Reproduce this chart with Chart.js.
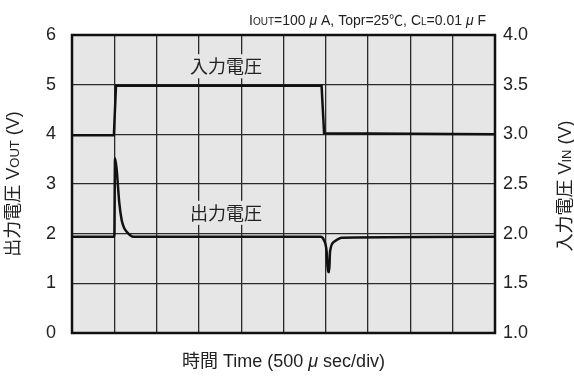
<!DOCTYPE html>
<html>
<head>
<meta charset="utf-8">
<script src="https://cdn.jsdelivr.net/npm/chart.js@4.4.1/dist/chart.umd.min.js"></script>
<style>
  html, body { margin: 0; padding: 0; background: #fff; }
  #wrap { width: 574px; height: 376px; }
</style>
</head>
<body>
<div id="wrap"><canvas id="scope"></canvas></div>
<script>
// time in divisions (500 usec/div)
const vinTime  = [0, 0.99, 1.04, 5.90, 5.96, 10];
const vinVolts = [2.99, 2.99, 3.49, 3.49, 3.01, 3.0];

const voutTime  = [0, 1.0, 1.017, 1.057, 1.118, 1.175, 1.23, 1.293, 1.36, 1.442,
                   5.88, 5.95, 6.02, 6.05, 6.08, 6.10, 6.2, 6.38, 10];
const voutVolts = [1.94, 1.94, 3.52, 3.28, 2.62, 2.27, 2.12, 2.04, 1.98, 1.94,
                   1.94, 1.88, 1.64, 1.23, 1.23, 1.64, 1.84, 1.92, 1.94];

const leftTicks  = [0, 1, 2, 3, 4, 5, 6];
const rightTicks = [1.0, 1.5, 2.0, 2.5, 3.0, 3.5, 4.0];

const FONT = "'Liberation Sans', Arial, 'Noto Sans CJK JP', sans-serif";

// draw text made of [text, size, italic] parts, centred on x,y
function mixedText(ctx, parts, x, y, align) {
  const f = p => (p[2] ? "italic " : "") + p[1] + "px " + FONT;
  let w = 0;
  parts.forEach(p => { ctx.font = f(p); w += ctx.measureText(p[0]).width; });
  let cx = align === "right" ? x - w : x - w / 2;
  ctx.textBaseline = "alphabetic";
  ctx.textAlign = "left";
  parts.forEach(p => {
    ctx.font = f(p);
    ctx.fillText(p[0], cx, y);
    cx += ctx.measureText(p[0]).width;
  });
}

const scopeDeco = {
  id: "scopeDeco",
  beforeDraw(chart) {
    const { ctx, chartArea: a } = chart;
    ctx.save();
    ctx.fillStyle = "#e6e6e6";
    ctx.fillRect(a.left, a.top, a.right - a.left, a.bottom - a.top);
    ctx.restore();
  },
  beforeDatasetsDraw(chart) {
    const { ctx, scales } = chart;
    ctx.save();
    ctx.font = "18px 'Noto Sans CJK JP', sans-serif";
    ctx.textAlign = "center";
    ctx.textBaseline = "middle";
    [["入力電圧", 3.64, 5.37], ["出力電圧", 3.64, 2.42]].forEach(l => {
      const px = scales.x.getPixelForValue(l[1]);
      const py = scales.y.getPixelForValue(l[2]);
      const w = ctx.measureText(l[0]).width;
      ctx.fillStyle = "#e6e6e6";
      ctx.fillRect(px - w / 2 - 3, py - 12, w + 6, 24);
      ctx.fillStyle = "#222";
      ctx.fillText(l[0], px, py);
    });
    ctx.restore();
  },
  afterDatasetsDraw(chart) {
    const { ctx, chartArea: a } = chart;
    ctx.save();
    ctx.strokeStyle = "#111";
    ctx.lineWidth = 2.5;
    ctx.strokeRect(a.left, a.top, a.right - a.left, a.bottom - a.top);
    ctx.restore();
  },
  afterDraw(chart) {
    const { ctx, chartArea: a } = chart;
    ctx.save();
    ctx.fillStyle = "#222";
    // condition note
    mixedText(ctx, [["I", 14], ["OUT", 10], ["=100 ", 14], ["μ", 14, true], [" A, Topr=25℃, C", 14],
                    ["L", 10], ["=0.01 ", 14], ["μ", 14, true], [" F", 14]], 486, 25, "right");
    // x title
    mixedText(ctx, [["時間 Time (500 ", 18], ["μ", 18, true], [" sec/div)", 18]], (a.left + a.right) / 2, 367);
    // left title
    ctx.translate(19, (a.top + a.bottom) / 2);
    ctx.rotate(-Math.PI / 2);
    mixedText(ctx, [["出力電圧 V", 18], ["OUT", 13], [" (V)", 18]], 0, 0);
    ctx.restore();
    ctx.save();
    ctx.fillStyle = "#222";
    ctx.translate(571, (a.top + a.bottom) / 2 + 2);
    ctx.rotate(-Math.PI / 2);
    mixedText(ctx, [["入力電圧 V", 18], ["IN", 13], [" (V)", 18]], 0, 0);
    ctx.restore();
  }
};

document.addEventListener("DOMContentLoaded", () => {
  const ctx = document.getElementById("scope").getContext("2d");
  new Chart(ctx, {
    type: "line",
    data: {
      datasets: [
        {
          label: "入力電圧",
          data: vinTime.map((t, i) => ({ x: t, y: vinVolts[i] })),
          yAxisID: "y1",
          borderColor: "#111",
          borderWidth: 2.5,
          pointRadius: 0,
          tension: 0
        },
        {
          label: "出力電圧",
          data: voutTime.map((t, i) => ({ x: t, y: voutVolts[i] })),
          yAxisID: "y",
          borderColor: "#111",
          borderWidth: 2.5,
          pointRadius: 0,
          cubicInterpolationMode: "monotone"
        }
      ]
    },
    options: {
      responsive: true,
      maintainAspectRatio: false,
      animation: false,
      layout: { padding: { top: 35, left: 0, right: 0, bottom: 0 } },
      plugins: { legend: { display: false }, tooltip: { enabled: false } },
      scales: {
        x: {
          type: "linear", min: 0, max: 10,
          ticks: { display: false, stepSize: 1 },
          grid: { color: "#2a2a2a", lineWidth: 1.3, drawTicks: false },
          border: { display: false },
          afterFit: s => { s.height = 43; }
        },
        y: {
          position: "left", min: 0, max: 6,
          afterBuildTicks: s => { s.ticks = leftTicks.map(v => ({ value: v })); },
          ticks: { font: { size: 18, family: FONT }, color: "#222", padding: 16 },
          grid: { color: "#2a2a2a", lineWidth: 1.3, drawTicks: false },
          border: { display: false },
          afterFit: s => { s.width = 72; }
        },
        y1: {
          position: "right", min: 1, max: 4,
          afterBuildTicks: s => { s.ticks = rightTicks.map(v => ({ value: v })); },
          ticks: { font: { size: 18, family: FONT }, color: "#222", padding: 8,
                   callback: v => v.toFixed(1) },
          grid: { display: false, drawTicks: false },
          border: { display: false },
          afterFit: s => { s.width = 79; }
        }
      }
    },
    plugins: [scopeDeco]
  });
});
</script>
</body>
</html>
